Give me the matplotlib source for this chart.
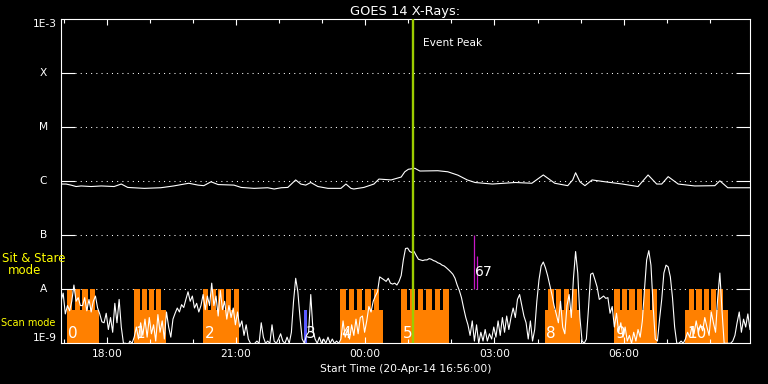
import numpy as np
import pandas as pd
import matplotlib
matplotlib.use('Agg')
import matplotlib.pyplot as plt
import matplotlib.dates as mdates
import matplotlib.transforms as mtransforms
from matplotlib.ticker import NullLocator

START = pd.Timestamp('2014-04-20 16:56:00')
SPAN_MIN = 960  # 16 hours shown

# GOES 1-8 A channel (upper trace): minutes after start, flux in 1e-9 W m^-2
long_min = [0, 7, 14, 21, 28, 42, 56, 74, 84, 93,
            116, 139, 157, 178, 191, 199, 209, 219, 241, 251,
            269, 288, 297, 307, 316, 327, 334, 341, 348, 358,
            372, 390, 397, 404, 408, 422, 436, 443, 460, 474,
            479, 484, 493, 500, 525, 539, 553, 566, 577, 601,
            633, 656, 672, 688, 706, 713, 717, 723, 730, 740,
            758, 782, 804, 818, 830, 837, 846, 860, 883, 911,
            918, 929, 960]
long_flux = [890, 890, 850, 800, 820, 800, 820, 800, 890, 770,
             740, 760, 820, 920, 850, 830, 980, 870, 850, 770,
             740, 760, 720, 760, 770, 1060, 890, 850, 950, 800,
             740, 740, 890, 740, 720, 770, 890, 1100, 1060, 1200,
             1500, 1670, 1740, 1550, 1570, 1500, 1300, 1060, 950, 890,
             950, 920, 1310, 920, 830, 1060, 1440, 980, 830, 1060,
             980, 890, 800, 1310, 890, 890, 1220, 890, 820, 830,
             1020, 760, 760]

# GOES 0.5-4 A channel (lower trace), one reading every 3 minutes, 1e-9 W m^-2
short_step = 3
short_flux = [
    6, 8.5, 3.5, 5, 4, 6, 12, 6, 7, 5,
    5, 7, 4, 6.5, 3.8, 6, 7.5, 4.5, 3.5, 2.5,
    2.4, 3.6, 1.8, 3, 1.6, 5.5, 2.4, 6.5, 2, 1.0,
    1.0, 0.9, 1.1, 1.0, 1.3, 2.0, 1.2, 2.4, 1.4, 2.8,
    1.3, 3.0, 1.5, 2.2, 1.1, 3.4, 1.6, 2.6, 1.2, 3.8,
    2.0, 1.3, 2.8, 3.6, 4.5, 3.8, 5.2, 4.6, 6.5, 9,
    6, 7.5, 4.5, 5.5, 3.8, 5, 8, 4.2, 7.5, 5,
    13, 5, 7.5, 3.2, 9.5, 4.2, 6, 2.8, 5, 3,
    4.5, 2.2, 3.8, 2, 2.6, 1.4, 2.2, 1.2, 1.0, 0.9,
    1.0, 1.1, 1.0, 2.4, 1.3, 1.0, 1.1, 1.0, 2.2, 1.1,
    1.0, 1.2, 1.5, 1.1, 1.0, 1.3, 1.0, 1.6, 6, 16,
    9, 3, 1.2, 1.0, 1.4, 1.6, 8, 1.8, 1.2, 1.0,
    1.3, 1.0, 1.2, 1.0, 1.3, 1.0, 1.2, 1.0, 1.1, 1.0,
    1.2, 2.6, 1.3, 1.8, 1.2, 2.2, 1.4, 2.8, 1.5, 3.0,
    3.2, 1.6, 2.6, 4.8, 3.8, 6, 7.5, 9, 17, 16,
    15, 14, 16, 13, 12.5, 13, 12, 14, 18, 35,
    57, 58, 50, 48, 50, 42, 36, 35, 34, 35,
    35, 37, 36, 34, 33, 31, 30, 28, 27, 25,
    23, 21, 19, 16, 12, 9.5, 7, 4.5, 3, 2.2,
    1.4, 2.6, 1.1, 2.2, 1.0, 1.6, 1.1, 1.8, 1.1, 1.5,
    1.2, 2.0, 1.3, 2.6, 1.4, 3.0, 1.6, 3.2, 1.8, 3.0,
    4.5, 3.0, 6.5, 8, 5, 3.2, 2.4, 1.2, 2.6, 1.1,
    1.8, 6, 15, 27, 32, 25, 18, 12, 8, 5,
    3.5, 2.4, 6, 2, 1.5, 5, 8, 3, 16, 50,
    20, 3, 1.1, 1.0, 1.2, 4.5, 19, 20, 15, 11,
    6.5, 7, 7.5, 6.8, 7, 3.6, 4.8, 2, 3.6, 1.6,
    2.4, 1.3, 2.0, 1.1, 1.4, 1.0, 1.6, 1.1, 1.8, 1.3,
    2.6, 10, 35, 52, 28, 5, 1.2, 1.1, 2.8, 6.5,
    20, 28, 26, 17, 7, 2.0, 1.0, 1.0, 1.1, 1.0,
    1.2, 1.6, 1.3, 2.0, 1.5, 2.6, 1.6, 2.2, 1.7, 3.0,
    2, 1.4, 3.8, 2.4, 1.6, 7, 20, 4, 1.0, 1.0,
    1.0, 1.0, 1.1, 1.4, 2.4, 3.8, 1.6, 2.8, 2.0, 3.5, 1.8,
]

# IRIS observing blocks (minutes after start)
scan_ids = ['0', '1', '2', '4', '5', '8', '9', '10']
scan_start = [8, 102, 198, 389, 474, 674, 771, 870]
scan_end = [53, 146, 248, 448, 540, 723, 831, 929]
stare_start = [8, 102, 198, 389, 474, 679, 771, 875]
stare_end = [48, 140, 248, 443, 540, 719, 831, 923]
stare_teeth = [4, 4, 5, 5, 6, 4, 6, 5]

other_ids = ['3']
other_start = [339]
other_end = [343]

line_ids = ['6', '7']
line_min = [575, 579]
line_top = [100, 41]

peak_min = 491

levels = [1e-9, 1e-8, 1e-7, 1e-6, 1e-5, 1e-4, 1e-3]
level_labels = ['1E-9', 'A', 'B', 'C', 'M', 'X', '1E-3']

NW = 1e-9
SCAN_LEVEL = 4.1e-9
STARE_LEVEL = 1e-8
TOOTH_MIN = 7.5
ORANGE = '#ff8000'
FS = 7.7


def to_num(minutes):
    t = START + pd.to_timedelta(np.asarray(minutes, dtype=float), unit='min')
    return mdates.date2num(t.to_numpy())


def day(minutes):
    return np.asarray(minutes, dtype=float) / 1440.0


fig = plt.figure(figsize=(7.68, 3.84), dpi=100, facecolor='black')
ax = fig.add_axes([61 / 768, (384 - 343.3) / 384, 689 / 768, 324 / 384])
ax.set_facecolor('black')
ax.set_yscale('log')
ax.set_ylim(1e-9, 1e-3)
ax.set_xlim(to_num([0, SPAN_MIN]))

floor = 1e-10
# scan mode blocks with sit & stare teeth on top
for s, e, ss, se, n in zip(scan_start, scan_end, stare_start, stare_end, stare_teeth):
    ax.bar(to_num(s), SCAN_LEVEL - floor, width=day(e - s), bottom=floor,
           align='edge', color=ORANGE, lw=0, zorder=1)
    period = (se - ss - TOOTH_MIN) / (n - 1)
    starts = [ss + k * period for k in range(n)]
    ax.bar(to_num(starts), STARE_LEVEL - floor, width=day(TOOTH_MIN), bottom=floor,
           align='edge', color=ORANGE, lw=0, zorder=1)

for s, e in zip(other_start, other_end):
    ax.bar(to_num(s), SCAN_LEVEL - floor, width=day(e - s), bottom=floor,
           align='edge', color='#5a5aff', lw=0, zorder=2)

for t, top in zip(line_min, line_top):
    ax.vlines(to_num(t), STARE_LEVEL, top * NW, color='#c818c8', lw=0.9, zorder=2)

# GOES curves
ax.plot(to_num(long_min), np.array(long_flux) * NW, color='white', lw=0.8, zorder=3)
short_min = np.arange(len(short_flux)) * short_step
ax.plot(to_num(short_min), np.array(short_flux) * NW, color='white', lw=0.8, zorder=3)

# block labels
for name, s in zip(scan_ids + other_ids, scan_start + other_start):
    ax.text(to_num(s + 2), 1.55e-9, name, color='white', fontsize=11,
            ha='left', va='center', zorder=5)
# the 6 and 7 lines sit close together, so their labels are packed side by side
ax.annotate(line_ids[0], xy=(to_num(line_min[0]), 2.1e-8), xytext=(1, 0),
            textcoords='offset points', color='white', fontsize=10,
            ha='left', va='center', zorder=5)
ax.annotate(line_ids[1], xy=(to_num(line_min[1]), 2.1e-8), xytext=(4.5, 0),
            textcoords='offset points', color='white', fontsize=10,
            ha='left', va='center', zorder=5)

# event peak
ax.axvline(to_num(peak_min), color='#9ccc00', lw=1.7, zorder=4)
ax.annotate('Event Peak', xy=(to_num(peak_min), 3.7e-4), xytext=(7, 0),
            textcoords='offset points', color='white', fontsize=FS, va='center')

# dotted level lines
for lvl in levels[1:-1]:
    ax.axhline(lvl, xmin=0.02, xmax=0.98, color='white', lw=0.75,
               ls=(0, (1, 4)), zorder=0)

# axes styling
for sp in ax.spines.values():
    sp.set_color('white')
    sp.set_linewidth(0.8)

ax.set_yticks(levels[1:-1])
ax.yaxis.set_minor_locator(NullLocator())
ax.tick_params(axis='y', which='major', direction='in', length=10, width=0.8,
               left=True, right=True, labelleft=False, color='white')

ax.xaxis.set_major_locator(mdates.HourLocator(byhour=range(0, 24, 3)))
ax.xaxis.set_minor_locator(mdates.HourLocator())
ax.xaxis.set_major_formatter(mdates.DateFormatter('%H:%M'))
ax.tick_params(axis='x', which='major', direction='in', length=4.3, width=0.8,
               top=True, bottom=True, color='white', labelcolor='white',
               labelsize=FS, pad=4)
ax.tick_params(axis='x', which='minor', direction='in', length=2.9, width=0.8,
               top=True, bottom=True, color='white')

# y level labels
trans = mtransforms.blended_transform_factory(ax.transAxes, ax.transData)
for lvl, lab in zip(levels, level_labels):
    if lab.startswith('1E'):
        va = 'top' if lvl == levels[-1] else 'bottom'
        ax.text(-0.006, lvl, lab, transform=trans, color='white', fontsize=FS,
                ha='right', va=va)
    else:
        ax.text(-0.0253, lvl, lab, transform=trans, color='white', fontsize=FS,
                ha='center', va='center')

ax.set_title('GOES 14 X-Rays:', color='white', fontsize=9.4, pad=3)
fig.text(405.5 / 768, 1 - 372 / 384, 'Start Time (20-Apr-14 16:56:00)',
         color='white', fontsize=FS, ha='center', va='baseline')

fig.text(34.2 / 768, 1 - 259 / 384, 'Sit & Stare', color='yellow', fontsize=8.5,
         ha='center', va='center')
fig.text(24.3 / 768, 1 - 271 / 384, 'mode', color='yellow', fontsize=8.5,
         ha='center', va='center')
fig.text(28.3 / 768, 1 - 323.5 / 384, 'Scan mode', color='yellow', fontsize=7,
         ha='center', va='center')

fig.savefig('out.png', dpi=100, facecolor='black')
